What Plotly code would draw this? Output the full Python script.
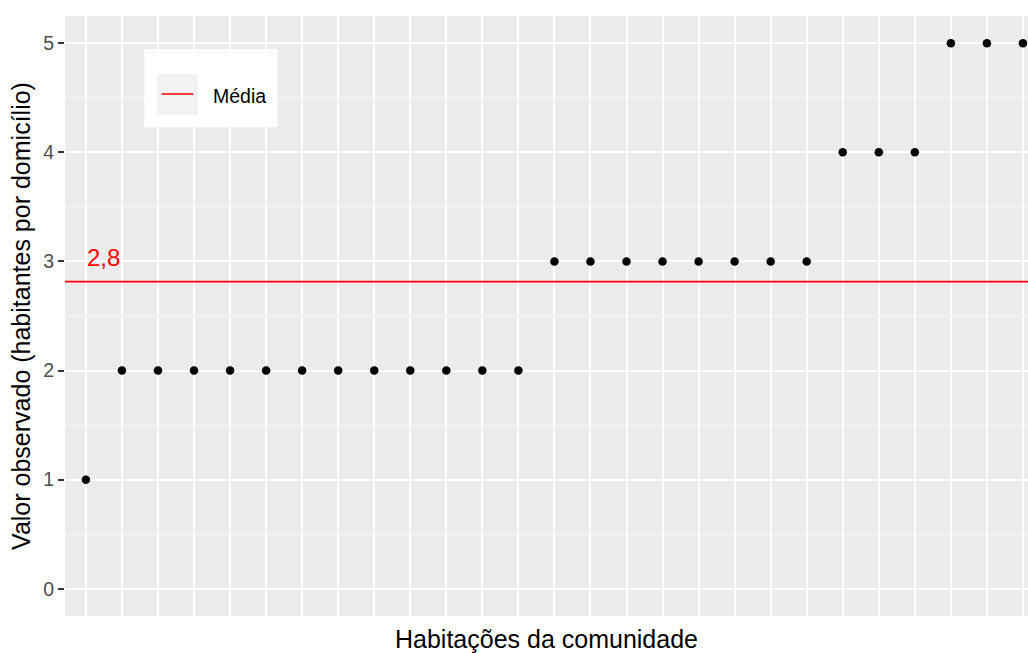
import numpy as np
import plotly.graph_objects as go

# Data: observed inhabitants per household, sorted
habitacoes = list(range(1, 28))
valores = [1] + [2] * 12 + [3] * 8 + [4] * 3 + [5] * 3
y_ticks = [0, 1, 2, 3, 4, 5]
legend_label = "Média"
x_title = "Habitações da comunidade"
y_title = "Valor observado (habitantes por domicílio)"

media = float(np.mean(valores))
media_txt = f"{media:.1f}".replace(".", ",")

FONT = "Liberation Sans, Arial, sans-serif"
BG = "#EBEBEB"

fig = go.Figure()

fig.add_trace(go.Scatter(
    x=habitacoes, y=valores, mode="markers",
    marker=dict(color="black", size=8.5, line=dict(width=0)),
    showlegend=False, hoverinfo="x+y",
))

# mean line
fig.add_shape(type="line", xref="paper", x0=0, x1=1, yref="y", y0=media, y1=media,
              line=dict(color="red", width=1.6), layer="above")

# mean label
fig.add_annotation(x=habitacoes[0], y=round(media), text=media_txt, showarrow=False,
                   xanchor="left", yanchor="middle", xshift=-1, yshift=4,
                   font=dict(family=FONT, size=24, color="red"))

# manual legend (ggplot-style inside legend)
def px2x(px):
    return (px - 65) / 963.0

def py2y(py):
    return 1 - (py - 16) / 600.0

fig.add_shape(type="rect", xref="paper", yref="paper",
              x0=px2x(144.3), x1=px2x(277.7), y0=py2y(127.3), y1=py2y(49),
              fillcolor="white", line=dict(width=0), layer="above")
fig.add_shape(type="rect", xref="paper", yref="paper",
              x0=px2x(157.3), x1=px2x(198), y0=py2y(115), y1=py2y(74),
              fillcolor="#F2F2F2", line=dict(width=0), layer="above")
fig.add_shape(type="line", xref="paper", yref="paper",
              x0=px2x(161.7), x1=px2x(193.3), y0=py2y(94), y1=py2y(94),
              line=dict(color="red", width=1.6), layer="above")
fig.add_annotation(xref="paper", yref="paper", x=px2x(210.5), y=py2y(95.5),
                   text=legend_label, showarrow=False, xanchor="left", yanchor="middle",
                   font=dict(family=FONT, size=19.5, color="black"))

fig.update_layout(
    width=1028, height=653,
    margin=dict(l=65, r=0, t=16, b=37, pad=0),
    paper_bgcolor="white", plot_bgcolor=BG,
    font=dict(family=FONT, color="black"),
    showlegend=False,
)

fig.update_xaxes(
    range=[0.42, 27.14],
    tickmode="array", tickvals=habitacoes, showticklabels=False, ticks="",
    showgrid=True, gridcolor="white", gridwidth=2,
    zeroline=False, showline=False,
    title=dict(text=x_title, font=dict(family=FONT, size=25, color="black"), standoff=17),
)
fig.update_yaxes(
    range=[-0.25, 5.25],
    tickmode="array", tickvals=y_ticks,
    ticks="outside", ticklen=6, tickwidth=1.5, tickcolor="#333333",
    tickfont=dict(family=FONT, size=19.5, color="#4D4D4D"),
    showgrid=True, gridcolor="white", gridwidth=2,
    minor=dict(dtick=0.5, tick0=0, showgrid=True, gridcolor="#F7F7F7", gridwidth=1),
    zeroline=False, showline=False,
    title=dict(text=y_title, font=dict(family=FONT, size=25, color="black"), standoff=5),
)

fig.write_html(
    "out.html",
    config={"displayModeBar": False},
    post_script="document.documentElement.style.margin='0';document.body.style.margin='0';"
                "document.body.style.overflow='hidden';",
)
